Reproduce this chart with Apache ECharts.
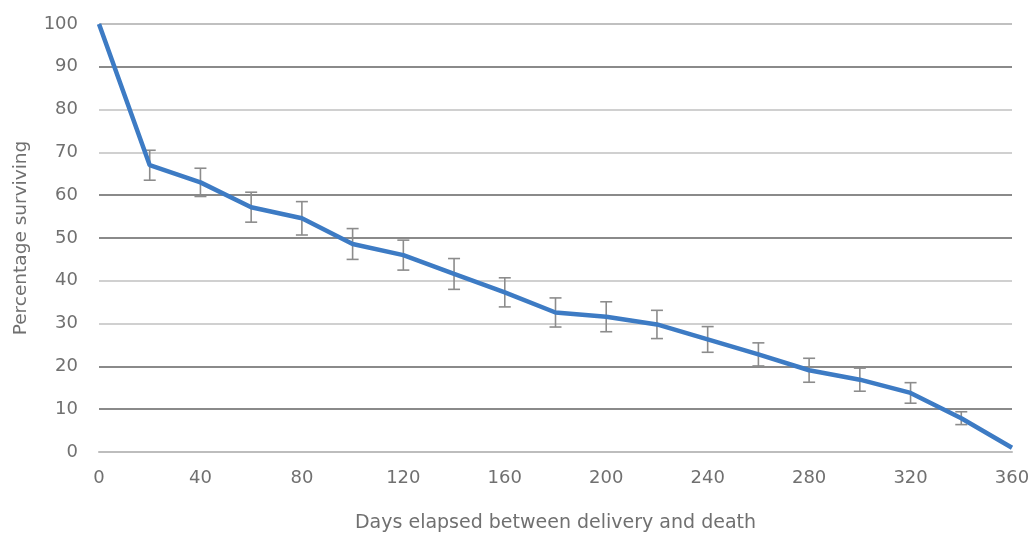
<!DOCTYPE html>
<html><head><meta charset="utf-8">
<script src="https://cdn.jsdelivr.net/npm/echarts@6/dist/echarts.min.js"></script>
<style>html,body{margin:0;padding:0;background:#fff}#c{width:1030px;height:536px}</style>
</head><body><div id="c"></div>
<script>
const days = [0,20,40,60,80,100,120,140,160,180,200,220,240,260,280,300,320,340,360];
const surviving = [100,67.0,63.0,57.2,54.6,48.6,46.0,41.6,37.3,32.6,31.6,29.8,26.3,22.8,19.1,16.9,13.8,7.9,1.0];
const errMargin = [0,3.5,3.3,3.5,3.9,3.6,3.5,3.6,3.4,3.4,3.5,3.3,3.0,2.7,2.8,2.7,2.4,1.5,0];
const xTicks = [0,40,80,120,160,200,240,280,320,360];
const yTicks = [0,10,20,30,40,50,60,70,80,90,100];

const lineData = days.map((d,i)=>[d,surviving[i]]);
const errData = days.map((d,i)=>[d,surviving[i]-errMargin[i],surviving[i]+errMargin[i]]).filter((r,i)=>errMargin[i]>0);
const font = 'DejaVu Sans';
const txt = '#707070';
const chart = echarts.init(document.getElementById('c'));
chart.setOption({
  animation:false,
  grid:{left:99,right:18,top:24,bottom:84,containLabel:false,outerBoundsMode:'none'},
  xAxis:{type:'value',min:0,max:360,interval:40,
    name:'Days elapsed between delivery and death',nameLocation:'middle',nameGap:62,
    nameTextStyle:{fontFamily:font,fontSize:19,color:txt},
    axisLine:{show:true,lineStyle:{color:'#bdbdbd',width:2}},axisTick:{show:false},
    axisLabel:{fontFamily:font,fontSize:18,color:txt,margin:17,formatter:v=>xTicks.includes(v)?String(v):''},
    splitLine:{show:false}},
  yAxis:{type:'value',min:0,max:100,interval:10,
    name:'Percentage surviving',nameLocation:'middle',nameGap:68,nameRotate:90,
    nameTextStyle:{fontFamily:font,fontSize:18.5,color:txt},
    axisLine:{show:false},axisTick:{show:false},
    axisLabel:{fontFamily:font,fontSize:18,color:txt,margin:21,formatter:v=>yTicks.includes(v)?String(v):''},
    splitLine:{show:true,lineStyle:{width:2,color:['#c8c8c8','#8a8a8a','#8a8a8a','#d0d0d0','#d0d0d0','#8a8a8a','#8a8a8a','#d0d0d0','#d0d0d0','#8a8a8a','#c0c0c0']}}},
  series:[
    {type:'custom',z:3,data:errData,encode:{x:0,y:[1,2]},
     renderItem:function(params,api){
       const x=api.value(0);
       const lo=api.coord([x,api.value(1)]);
       const hi=api.coord([x,api.value(2)]);
       const w=6;
       const st={stroke:'#8c8c8c',lineWidth:1.6};
       return {type:'group',children:[
         {type:'line',shape:{x1:lo[0],y1:lo[1],x2:hi[0],y2:hi[1]},style:st},
         {type:'line',shape:{x1:lo[0]-w,y1:lo[1],x2:lo[0]+w,y2:lo[1]},style:st},
         {type:'line',shape:{x1:hi[0]-w,y1:hi[1],x2:hi[0]+w,y2:hi[1]},style:st}
       ]};
     }},
    {type:'line',z:4,data:lineData,showSymbol:false,symbol:'none',
     lineStyle:{color:'#3d7bc4',width:4.5}}
  ]
});
</script></body></html>
